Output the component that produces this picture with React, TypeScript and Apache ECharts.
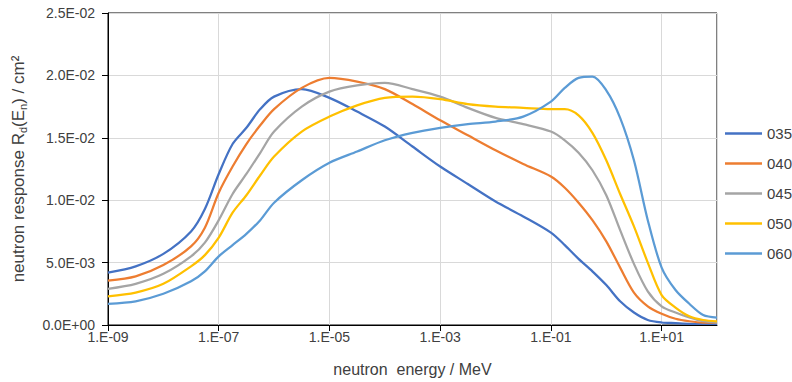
import React, { useEffect, useRef } from "react";
import * as echarts from "echarts";

// neutron energies (MeV)
const energies = [
  1e-9, 3.16e-9, 1e-8, 3.16e-8, 5.62e-8, 1e-7, 1.78e-7, 3.16e-7, 5.62e-7, 1e-6,
  3.16e-6, 1e-5, 3.16e-5, 1e-4, 3.16e-4, 1e-3, 3.16e-3, 1e-2, 3.16e-2, 0.1,
  0.178, 0.316, 0.562, 1, 1.78, 3.16, 5.62, 10, 17.8, 31.6, 56.2, 100,
];

const seriesNames = ["035", "040", "045", "050", "060"];
const seriesColors = ["#4472C4", "#ED7D31", "#A5A5A5", "#FFC000", "#5B9BD5"];

const r035 = [
  0.0042, 0.0047, 0.0057, 0.0075, 0.0093, 0.0121, 0.0145, 0.0158, 0.0173, 0.0183,
  0.0189, 0.0182, 0.0171, 0.0159, 0.0143, 0.0127, 0.0113, 0.0099, 0.0087, 0.0074,
  0.0064, 0.0053, 0.0043, 0.0032, 0.0019, 0.001, 0.0004, 0.0002, 0.00015, 0.0001,
  0.0001, 0.0001,
];
const r040 = [
  0.00355, 0.0039, 0.0048, 0.0063, 0.0078, 0.0106, 0.0127, 0.0145, 0.016, 0.0173,
  0.019, 0.0198, 0.0195, 0.0189, 0.0177, 0.0164, 0.0152, 0.014, 0.0129, 0.0119,
  0.011, 0.0098, 0.0084, 0.0067, 0.0046, 0.0026, 0.0015, 0.0009, 0.0005, 0.0003,
  0.0002, 0.0002,
];
const r045 = [
  0.0029, 0.0033, 0.0041, 0.0055, 0.0066, 0.0084, 0.0105, 0.0121, 0.0138, 0.0155,
  0.0175, 0.0187, 0.0192, 0.0194, 0.0189, 0.0183, 0.0174, 0.0166, 0.0161, 0.0155,
  0.0148, 0.0138, 0.0124, 0.0104, 0.0076, 0.0049, 0.0027, 0.0015, 0.001, 0.0006,
  0.0003, 0.0002,
];
const r050 = [
  0.0023, 0.0026, 0.0033, 0.0047, 0.0056, 0.007, 0.009, 0.0104, 0.012, 0.0135,
  0.0155, 0.0167, 0.0176, 0.0182, 0.0183, 0.0181, 0.0177, 0.0175, 0.0174, 0.0173,
  0.0173, 0.0168, 0.0154, 0.0132, 0.0105, 0.0079, 0.005, 0.0024, 0.0014, 0.0007,
  0.0004, 0.0003,
];
const r060 = [
  0.0017, 0.0019, 0.0025, 0.0035, 0.0043, 0.0055, 0.0064, 0.0073, 0.0084, 0.0098,
  0.0116, 0.013, 0.0139, 0.0148, 0.0154, 0.0158, 0.0161, 0.0163, 0.0167, 0.0179,
  0.019, 0.0198, 0.0199, 0.0188, 0.0166, 0.0132, 0.0084, 0.0046, 0.0028, 0.0017,
  0.0008, 0.0006,
];
const seriesValues = [r035, r040, r045, r050, r060];

const FONT = "'Liberation Sans', Arial, sans-serif";
const TEXT = "#404040";

function pad2(n: number) {
  return String(n).padStart(2, "0");
}
function fmtX(v: number) {
  const e = Math.round(Math.log10(v));
  if (e >= 2) return "";
  return "1.E" + (e < 0 ? "-" : "+") + pad2(Math.abs(e));
}
function fmtY(v: number) {
  if (Math.abs(v) < 1e-12) return "0.0E+00";
  const e = Math.floor(Math.log10(v) + 1e-9);
  const m = v / Math.pow(10, e);
  return m.toFixed(1) + "E" + (e < 0 ? "-" : "+") + pad2(Math.abs(e));
}

export default function App() {
  const ref = useRef<HTMLDivElement>(null);
  useEffect(() => {
    if (!ref.current) return;
    const chart = echarts.init(ref.current, null, { renderer: "svg" });
    const option = {
      animation: false,
      backgroundColor: "#fff",
      textStyle: { fontFamily: FONT },
      grid: {
        left: 108,
        right: 75,
        top: 13,
        bottom: 57,
        show: true,
        borderColor: "#000",
        borderWidth: 1,
      },
      legend: {
        orient: "vertical",
        left: 720,
        top: 120,
        itemWidth: 37,
        itemHeight: 2.5,
        itemGap: 13,
        icon: "rect",
        data: seriesNames,
        textStyle: { fontSize: 15, color: TEXT, fontFamily: FONT, lineHeight: 17 },
      },
      xAxis: {
        type: "log",
        logBase: 10,
        min: 1e-9,
        max: 100,
        interval: 2,
        name: "neutron  energy / MeV",
        nameLocation: "middle",
        nameGap: 36,
        nameTextStyle: { fontSize: 16, color: TEXT, fontFamily: FONT },
        axisLine: { show: true, lineStyle: { color: "#000", width: 1 } },
        axisTick: { show: true, length: 6, lineStyle: { color: "#000" } },
        minorTick: { show: false },
        axisLabel: {
          formatter: fmtX,
          fontSize: 14,
          color: TEXT,
          margin: 5,
          fontFamily: FONT,
          showMaxLabel: false,
        },
        splitLine: { show: true, lineStyle: { color: "#d9d9d9", width: 1 } },
      },
      yAxis: {
        type: "value",
        min: 0,
        max: 0.025,
        interval: 0.005,
        name: "neutron response R{s|d}(E{s|n}) / cm²",
        nameLocation: "middle",
        nameGap: 80,
        nameTextStyle: {
          fontSize: 17,
          color: TEXT,
          fontFamily: FONT,
          lineHeight: 20,
          rich: {
            s: { fontSize: 11, color: TEXT, fontFamily: FONT, verticalAlign: "bottom", lineHeight: 12 },
          },
        },
        axisLine: { show: true, lineStyle: { color: "#000", width: 1 } },
        axisTick: { show: true, length: 6, inside: false, lineStyle: { color: "#000" } },
        axisLabel: { formatter: fmtY, fontSize: 14, color: TEXT, margin: 13, fontFamily: FONT },
        splitLine: { show: true, lineStyle: { color: "#d9d9d9", width: 1 } },
      },
      series: seriesNames.map((name, i) => ({
        name,
        type: "line",
        smooth: 0.3,
        showSymbol: false,
        symbol: "none",
        color: seriesColors[i],
        lineStyle: { width: 2.25, color: seriesColors[i] },
        data: energies.map((e, j) => [e, seriesValues[i][j]]),
      })),
    };
    chart.setOption(option as any);
    return () => chart.dispose();
  }, []);
  return (
    <div
      ref={ref}
      style={{ position: "fixed", left: 0, top: 0, width: 792, height: 382 }}
    />
  );
}
